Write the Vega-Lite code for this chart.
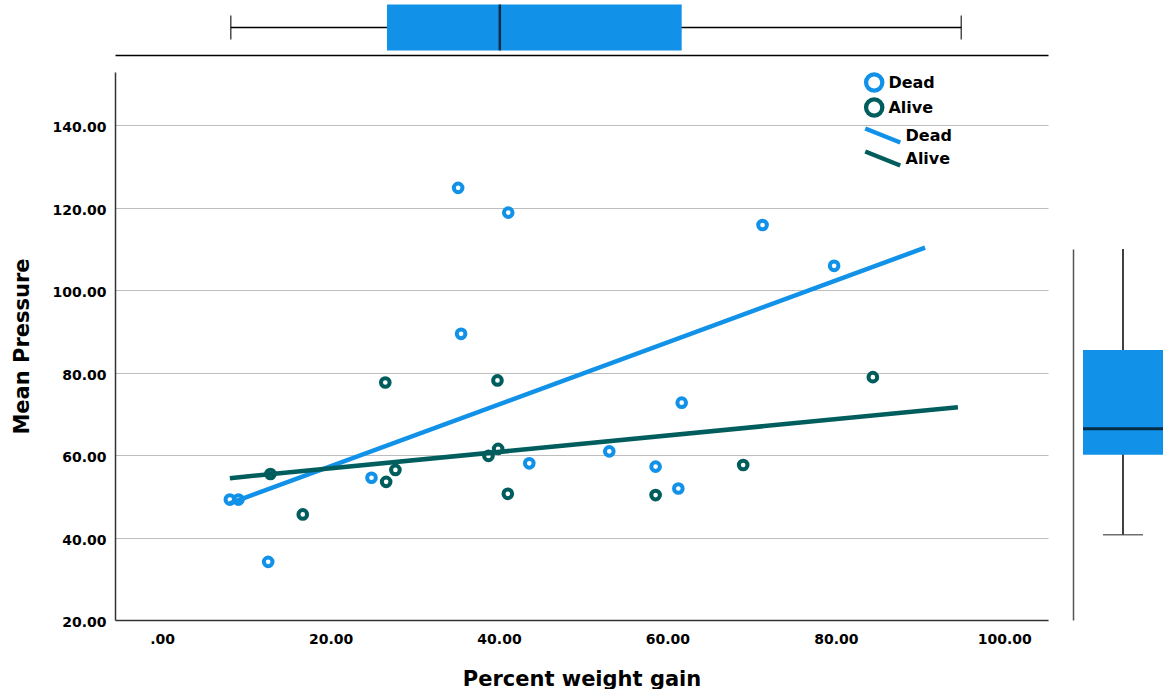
{
  "$schema": "https://vega.github.io/schema/vega-lite/v6.json",
  "padding": {"left": 11, "top": 0, "right": 0, "bottom": 0},
  "background": "white",
  "config": {
    "font": "DejaVu Sans",
    "view": {"stroke": null},
    "axis": {
      "labelFont": "DejaVu Sans", "labelFontWeight": "bold", "labelFontSize": 14, "labelColor": "black",
      "titleFont": "DejaVu Sans", "titleFontWeight": "bold", "titleFontSize": 21, "titleColor": "black"
    },
    "legend": {
      "labelFont": "DejaVu Sans", "labelFontWeight": "bold", "labelFontSize": 16, "labelColor": "black", "padding": 0
    }
  },
  "datasets": {
    "pts": [
      {"status": "Dead", "gain": 8.04, "pressure": 49.2},
      {"status": "Dead", "gain": 9.06, "pressure": 49.2},
      {"status": "Dead", "gain": 12.59, "pressure": 34.1},
      {"status": "Dead", "gain": 24.86, "pressure": 54.5},
      {"status": "Dead", "gain": 35.15, "pressure": 124.8},
      {"status": "Dead", "gain": 35.5, "pressure": 89.4},
      {"status": "Dead", "gain": 41.1, "pressure": 118.8},
      {"status": "Dead", "gain": 43.6, "pressure": 58.0},
      {"status": "Dead", "gain": 53.1, "pressure": 60.9},
      {"status": "Dead", "gain": 58.6, "pressure": 57.2},
      {"status": "Dead", "gain": 61.3, "pressure": 51.9},
      {"status": "Dead", "gain": 61.7, "pressure": 72.7},
      {"status": "Dead", "gain": 71.3, "pressure": 115.8},
      {"status": "Dead", "gain": 79.8, "pressure": 105.9},
      {"status": "Alive", "gain": 12.86, "pressure": 55.4},
      {"status": "Alive", "gain": 16.7, "pressure": 45.6},
      {"status": "Alive", "gain": 26.5, "pressure": 77.6},
      {"status": "Alive", "gain": 26.6, "pressure": 53.5},
      {"status": "Alive", "gain": 27.7, "pressure": 56.4},
      {"status": "Alive", "gain": 38.75, "pressure": 59.8},
      {"status": "Alive", "gain": 39.82, "pressure": 78.1},
      {"status": "Alive", "gain": 39.9, "pressure": 61.5},
      {"status": "Alive", "gain": 41.05, "pressure": 50.6},
      {"status": "Alive", "gain": 58.6, "pressure": 50.3},
      {"status": "Alive", "gain": 69.0, "pressure": 57.6},
      {"status": "Alive", "gain": 84.4, "pressure": 78.9}
    ],
    "fits": [
      {"status": "Dead", "gain": 8.04, "pressure": 48.3},
      {"status": "Dead", "gain": 90.6, "pressure": 110.3},
      {"status": "Alive", "gain": 8.04, "pressure": 54.4},
      {"status": "Alive", "gain": 94.5, "pressure": 71.6}
    ],
    "xbox": [{"var": "Percent weight gain", "lo": 8.15, "q1": 26.7, "med": 40.1, "q3": 61.7, "hi": 94.9}],
    "ybox": [{"var": "Mean Pressure", "lo": 40.7, "q1": 60.1, "med": 66.4, "q3": 85.5, "hi": 110}]
  },
  "columns": 2,
  "bounds": "flush",
  "spacing": {"row": 17, "column": 25},
  "resolve": {"legend": {"stroke": "independent", "color": "independent"}},
  "concat": [
    {
      "width": 933, "height": 55,
      "data": {"name": "xbox"},
      "encoding": {"y": {"field": "var", "type": "nominal", "axis": null}},
      "layer": [
        {
          "mark": {"type": "rule", "color": "black", "strokeWidth": 1.5},
          "encoding": {
            "x": {"field": "lo", "type": "quantitative", "scale": {"domain": [-5.6, 105.2], "nice": false, "zero": false},
                  "axis": {"orient": "bottom", "labels": false, "ticks": false, "grid": false, "title": null, "domainColor": "black", "domainWidth": 1.5}},
            "x2": {"field": "hi"}
          }
        },
        {
          "mark": {"type": "bar", "color": "#1192e8", "size": 46},
          "encoding": {"x": {"field": "q1", "type": "quantitative"}, "x2": {"field": "q3"}}
        },
        {
          "mark": {"type": "tick", "color": "black", "thickness": 2.5, "size": 46, "orient": "vertical"},
          "encoding": {"x": {"field": "med", "type": "quantitative"}}
        },
        {
          "mark": {"type": "tick", "color": "black", "thickness": 1.5, "size": 24, "orient": "vertical"},
          "encoding": {"x": {"field": "lo", "type": "quantitative"}}
        },
        {
          "mark": {"type": "tick", "color": "black", "thickness": 1.5, "size": 24, "orient": "vertical"},
          "encoding": {"x": {"field": "hi", "type": "quantitative"}}
        }
      ]
    },
    {
      "width": 91, "height": 55,
      "data": {"values": []},
      "mark": {"type": "point", "opacity": 0}
    },
    {
      "width": 933, "height": 548,
      "layer": [
        {
          "data": {"name": "pts"},
          "mark": {"type": "point", "filled": false, "strokeWidth": 4, "size": 75, "opacity": 1},
          "encoding": {
            "x": {"field": "gain", "type": "quantitative", "scale": {"domain": [-5.6, 105.2], "nice": false, "zero": false},
                  "axis": {"values": [0, 20, 40, 60, 80, 100], "labelExpr": "datum.value == 0 ? '.00' : format(datum.value, '.2f')",
                           "grid": false, "ticks": false, "domainColor": "#333", "domainWidth": 1.5, "labelPadding": 12,
                           "title": "Percent weight gain", "titlePadding": 22}},
            "y": {"field": "pressure", "type": "quantitative", "scale": {"domain": [20, 152.9], "nice": false, "zero": false},
                  "axis": {"values": [20, 40, 60, 80, 100, 120, 140], "format": ".2f", "grid": true, "gridColor": "#bdbdbd", "gridWidth": 1,
                           "ticks": false, "domainColor": "#333", "domainWidth": 1.5, "labelPadding": 9, "labelOffset": 2.5,
                           "title": "Mean Pressure", "titlePadding": 19}},
            "stroke": {"field": "status", "type": "nominal", "sort": ["Dead", "Alive"], "scale": {"range": ["#1192e8", "#005d5d"]},
                       "legend": {"title": null, "orient": "none", "legendX": 748.7, "legendY": 0, "symbolType": "circle", "symbolSize": 265,
                                  "symbolStrokeWidth": 4.3, "clipHeight": 21, "rowPadding": 4, "labelOffset": 3.7}}
          }
        },
        {
          "data": {"name": "fits"},
          "mark": {"type": "line", "strokeWidth": 4.5},
          "encoding": {
            "x": {"field": "gain", "type": "quantitative"},
            "y": {"field": "pressure", "type": "quantitative"},
            "color": {"field": "status", "type": "nominal", "sort": ["Dead", "Alive"], "scale": {"range": ["#1192e8", "#005d5d"]},
                      "legend": {"title": null, "orient": "none", "legendX": 747.75, "legendY": 53.5, "symbolType": "M-1,-0.4L1,0.4",
                                 "symbolSize": 1225, "symbolStrokeWidth": 4.5, "clipHeight": 20, "rowPadding": 3, "labelOffset": 2.75}}
          }
        }
      ]
    },
    {
      "width": 91, "height": 548,
      "data": {"name": "ybox"},
      "encoding": {"x": {"field": "var", "type": "nominal", "axis": null, "scale": {"range": [0, 100]}}},
      "layer": [
        {
          "mark": {"type": "rule", "color": "black", "strokeWidth": 1.5},
          "encoding": {
            "y": {"field": "lo", "type": "quantitative", "scale": {"domain": [20, 110], "range": [548, 177], "nice": false, "zero": false},
                  "axis": {"orient": "left", "labels": false, "ticks": false, "grid": false, "title": null, "domainColor": "#555", "domainWidth": 1.5}},
            "y2": {"field": "hi"}
          }
        },
        {
          "mark": {"type": "bar", "color": "#1192e8", "size": 80},
          "encoding": {"y": {"field": "q1", "type": "quantitative"}, "y2": {"field": "q3"}}
        },
        {
          "mark": {"type": "tick", "color": "black", "thickness": 3, "size": 80, "orient": "horizontal"},
          "encoding": {"y": {"field": "med", "type": "quantitative"}}
        },
        {
          "mark": {"type": "tick", "color": "#333", "thickness": 1.5, "size": 40, "orient": "horizontal"},
          "encoding": {"y": {"field": "lo", "type": "quantitative"}}
        }
      ]
    }
  ]
}
